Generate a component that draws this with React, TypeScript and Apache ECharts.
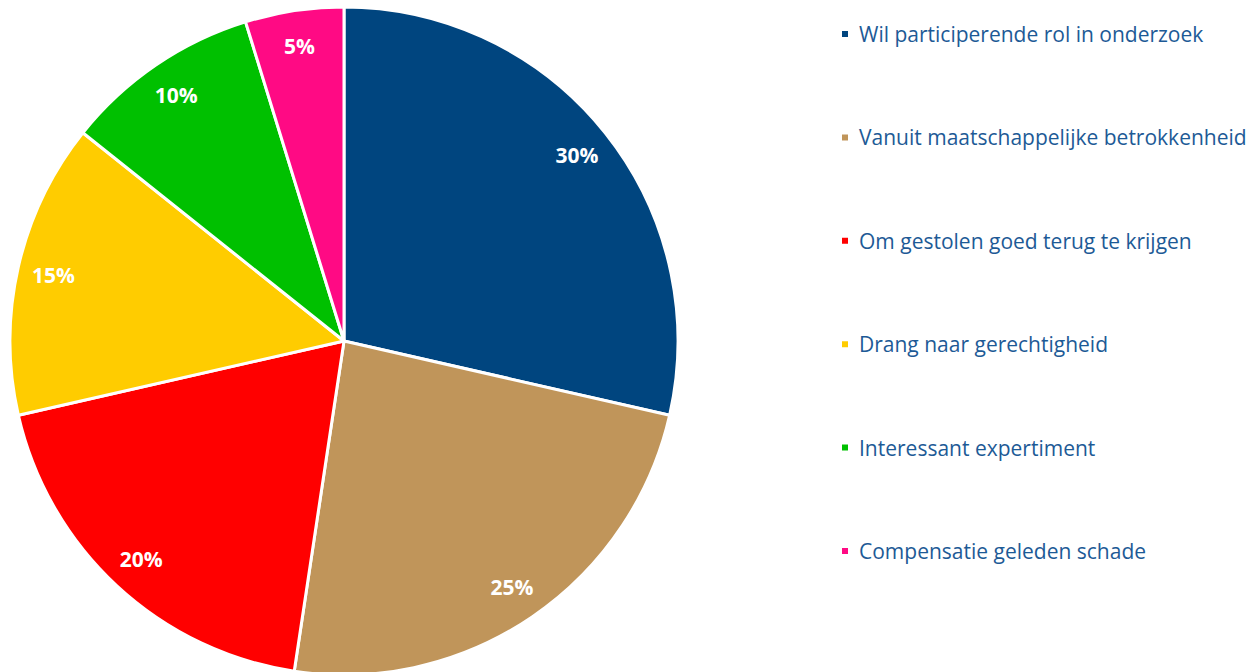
import React, { useEffect, useRef } from "react";
import * as echarts from "echarts";

const categories = [
  "Wil participerende rol in onderzoek",
  "Vanuit maatschappelijke betrokkenheid",
  "Om gestolen goed terug te krijgen",
  "Drang naar gerechtigheid",
  "Interessant expertiment",
  "Compensatie geleden schade",
];
const values = [30, 25, 20, 15, 10, 5];
const colors = ["#00457f", "#c0955a", "#ff0000", "#ffcc00", "#00c000", "#ff0a84"];

export default function App() {
  const ref = useRef<HTMLDivElement>(null);
  useEffect(() => {
    const chart = echarts.init(ref.current!, null, { renderer: "svg" });
    const data = categories.map((name, i) => ({ name, value: values[i] }));
    chart.setOption({
      animation: false,
      color: colors,
      legend: {
        orient: "vertical",
        left: 840,
        top: 23,
        padding: 0,
        icon: "rect",
        itemWidth: 8,
        itemHeight: 8,
        itemGap: 81.4,
        data: categories,
        textStyle: {
          fontFamily: "Open Sans",
          fontSize: 21,
          color: "#1d5a96",
          lineHeight: 22,
          padding: [0, 0, 0, 5],
        },
      },
      series: [
        {
          type: "pie",
          center: [344, 341],
          radius: [0, 334],
          startAngle: 90,
          clockwise: true,
          silent: true,
          data,
          itemStyle: { borderColor: "#ffffff", borderWidth: 3 },
          label: { show: false },
          labelLine: { show: false },
        },
        {
          type: "pie",
          center: [344, 341],
          radius: [256, 334],
          startAngle: 90,
          clockwise: true,
          silent: true,
          data,
          itemStyle: { color: "transparent", borderWidth: 0 },
          label: {
            show: true,
            position: "inside",
            formatter: "{c}%",
            color: "#ffffff",
            fontFamily: "Open Sans",
            fontWeight: "bold",
            fontSize: 21,
          },
          labelLine: { show: false },
        },
      ],
    });
    return () => chart.dispose();
  }, []);
  return (
    <div
      ref={ref}
      style={{ position: "absolute", left: 0, top: 0, width: 1250, height: 672 }}
    />
  );
}
